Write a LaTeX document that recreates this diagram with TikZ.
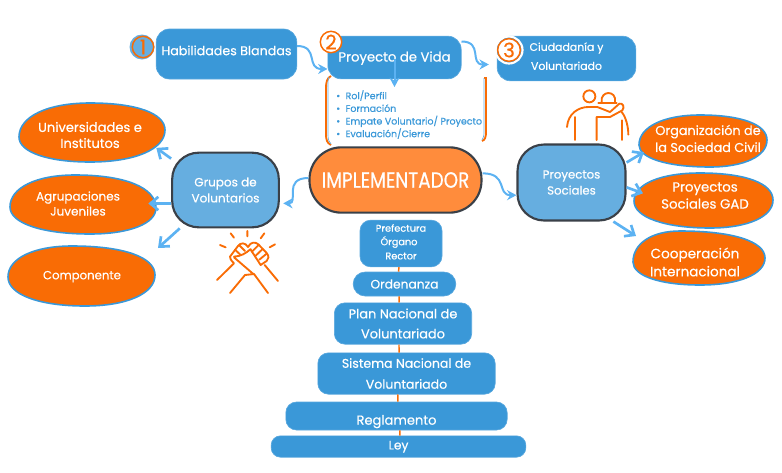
\documentclass[tikz,border=0pt]{standalone}
\usepackage{fontspec}
\setmainfont{Poppins}[RawFeature={embolden=0.5}]
\usetikzlibrary{arrows.meta,shapes.geometric}
\definecolor{boxblue}{HTML}{3A98D8}
\definecolor{softblue}{HTML}{66AEE0}
\definecolor{arrowblue}{HTML}{5CB2F2}
\definecolor{deeporange}{HTML}{F96C05}
\definecolor{softorange}{HTML}{FF8C3C}
\definecolor{darkline}{HTML}{3A4048}
% left, top, right, bottom extreme points of a closed blob
\newcommand{\blobpath}[8]{%
  (#1,#2) .. controls (#1,{#2-.6*(#2-#4)}) and ({#3-.6*(#3-#1)},#4) .. (#3,#4)
  .. controls ({#3+.62*(#5-#3)},#4) and (#5,{#6-.62*(#6-#4)}) .. (#5,#6)
  .. controls (#5,{#6+.6*(#8-#6)}) and ({#7+.6*(#5-#7)},#8) .. (#7,#8)
  .. controls ({#7-.6*(#7-#1)},#8) and (#1,{#2+.6*(#8-#2)}) .. (#1,#2) -- cycle}
\tikzset{
  fs/.style 2 args={font=\fontsize{#1}{#2}\selectfont},
  bluebox/.style={rectangle,rounded corners=#1,fill=boxblue,draw=boxblue!85!white,line width=.5pt,text=white,align=center,inner sep=0pt},
  bluebox/.default=8pt,
  hub/.style={rectangle,rounded corners=20pt,fill=softblue,draw=darkline,line width=1.6pt,text=white,align=center,inner sep=0pt},
  blobshape/.style={fill=deeporange,draw=boxblue,line width=1.2pt},
  blobtext/.style={ellipse,text=white,align=center,inner sep=0pt},
  flow/.style={draw=arrowblue,line width=1.5pt,-{Stealth[length=7pt,width=7.5pt]}},
  spoke/.style={draw=arrowblue,line width=2pt,-{Straight Barb[length=6pt,width=10pt]}},
  stem/.style={draw=deeporange,line width=1.1pt},
  icon/.style={draw=deeporange,line width=1.4pt,line cap=round,line join=round},
  badge/.style={circle,draw=deeporange,line width=1.1pt,text=deeporange,inner sep=0pt,minimum size=16pt},
  bracketline/.style={draw=deeporange,line width=1.4pt},
  bracketglow/.style={draw=softblue,line width=.5pt},
}
\begin{document}
\begin{tikzpicture}[x=.75pt,y=-.75pt]
\useasboundingbox (0,0) rectangle (782,472);
% ---- pyramid
\node[bluebox,minimum width=61.5pt,minimum height=35pt] (pref) at (401,243.5) {};
\node[bluebox=9pt,minimum width=77pt,minimum height=18pt,fs={9.2}{11}] (orde) at (404.5,284) {Ordenanza};
\node[bluebox,minimum width=103pt,minimum height=31pt,fs={9.7}{15}] (plan) at (403,323.5) {Plan Nacional de\\Voluntariado};
\node[bluebox,minimum width=133pt,minimum height=31pt,fs={9.4}{15.7}] (sist) at (406.5,373.5) {Sistema Nacional de\\Voluntariado};
\node[bluebox,minimum width=166pt,minimum height=21pt,fs={9.8}{12}] (regl) at (396.5,416) {\raisebox{-6.5pt}[0pt][0pt]{Reglamento}};
\node[bluebox,minimum width=191pt,minimum height=16pt,rounded corners=7pt,fs={9.2}{11}] (ley) at (398.5,446.5) {\raisebox{-2.2pt}[0pt][0pt]{Ley}};
\node[text=white,inner sep=0pt,fs={7.3}{9}] (preft) at (401,228) {Prefectura};
\node[text=white,inner sep=0pt,fs={7.3}{9}] (orgt) at (399,242) {Órgano};
\node[text=white,inner sep=0pt,fs={7.3}{9}] (rect) at (401,256) {Rector};
\draw[stem] ([xshift=-1.5pt]pref.south) -- ([xshift=-4.5pt]orde.north);
\draw[stem] ([xshift=-4pt]orde.south) -- ([xshift=-3pt]plan.north);
\draw[stem] ([xshift=-3pt]plan.south) -- ([xshift=-5.6pt]sist.north);
\draw[stem] ([xshift=-6.4pt]sist.south) -- ([xshift=1pt]regl.north);
\draw[stem] ([xshift=2.6pt]regl.south) -- ([xshift=1pt]ley.north);
% ---- top row
\node[bluebox=10pt,minimum width=105.5pt,minimum height=37.5pt,fs={9.5}{11}] (hab) at (226.5,54) {\raisebox{-.9pt}[0pt][0pt]{Habilidades Blandas}};
\node[bluebox=10pt,minimum width=100pt,minimum height=32pt,fs={9.9}{11}] (pvi) at (394.5,57.5) {\raisebox{-3pt}[0pt][0pt]{Proyecto de Vida}};
\node[bluebox=10pt,minimum width=104pt,minimum height=33.5pt,fs={8.2}{14.25}] (ciu) at (566.5,58.5) {\raisebox{-1.4pt}[0pt][0pt]{Ciudadanía y}\\\raisebox{-1.4pt}[0pt][0pt]{Voluntariado}};
\fill[softblue] (142,47) circle (12.5);
\node[badge,fill=softblue,fs={15}{15}] (b1) at (143,47) {1};
\node[badge,fill=white,fs={15}{15}] (b2) at (331,42) {2};
\draw[white,line width=1.6pt] (509,50) circle (13.5);
\node[badge,fill=white,minimum size=17pt,fs={15}{15}] (b3) at (509,50) {3};
% ---- list with brackets
\node[inner sep=0pt,text=boxblue,align=left,anchor=north west,fs={7.1}{9.5}] (lista) at (336,90) {%
  \hbox to 7pt{•\hss}Rol/Perfil\\
  \hbox to 7pt{•\hss}Formación\\
  \hbox to 7pt{•\hss}Empate Voluntario/ Proyecto\\
  \hbox to 7pt{•\hss}Evaluación/Cierre};
\draw[bracketline] (331,76) .. controls (327,78) and (326,82) .. (326,88) -- (326,134) .. controls (326,140) and (327,143) .. (331,145);
\draw[bracketglow] (329,77) .. controls (328,79) and (328,82) .. (328,88) -- (328,134) .. controls (328,140) and (329,142) .. (331,144);
\draw[bracketline] (484,78) -- (486,78) -- (486,132) .. controls (486,137) and (485,140) .. (482,141);
\draw[bracketglow] (484,78) -- (484,132) .. controls (484,136) and (483,139) .. (482,140);
% ---- centre and hubs
\node[rectangle,rounded corners=24pt,fill=softorange,draw=darkline,line width=1.6pt,text=white,minimum width=129pt,minimum height=49pt,inner sep=0pt,fs={13.8}{15}] (imp) at (395.5,180) {\scalebox{1}[1.2]{IMPLEMENTADOR}};
\node[hub,minimum width=80pt,minimum height=56pt,fs={9}{12}] (gru) at (225.5,190) {Grupos de\\Voluntarios};
\node[hub,minimum width=81pt,minimum height=57pt,fs={8.8}{12}] (pso) at (571.5,182.5) {Proyectos\\Sociales};
% ---- blobs
\fill[blobshape] \blobpath{19}{137}{90}{103}{165}{130}{90}{162};
\fill[blobshape] \blobpath{10}{207}{75}{175}{156}{208}{90}{234};
\fill[blobshape] \blobpath{8}{277}{72}{246}{155}{275}{85}{306};
\fill[blobshape] \blobpath{639}{145}{700}{115}{767}{140}{710}{167};
\fill[blobshape] \blobpath{634}{201}{700}{173}{773}{200}{710}{228};
\fill[blobshape] \blobpath{633}{262}{680}{231}{765}{258}{700}{285};
\node[blobtext,minimum width=109pt,minimum height=44pt,fs={9.8}{12}] (uni) at (90,135) {Universidades e\\Institutos};
\node[blobtext,minimum width=105pt,minimum height=44pt,fs={9}{11.25}] (agr) at (78,203.5) {Agrupaciones\\Juveniles};
\node[blobtext,minimum width=110pt,minimum height=45pt,fs={8.8}{11}] (com) at (82,275) {\raisebox{-3.2pt}[0pt][0pt]{Componente}};
\node[blobtext,minimum width=112pt,minimum height=39pt,fs={9.6}{12.75}] (org) at (708,138.5) {Organización de\\la Sociedad Civil};
\node[blobtext,minimum width=90pt,minimum height=41pt,fs={10}{12.75}] (gad) at (705,195.5) {Proyectos\\Sociales GAD};
\node[blobtext,minimum width=99pt,minimum height=41pt,fs={10.2}{13.5}] (coo) at (695,262) {Cooperación\\Internacional};
% ---- connectors
\draw[flow] ([yshift=6pt]hab.east) .. controls +(22,0) and +(-22,0) .. ([yshift=-8.6pt]pvi.west);
\draw[flow] ([yshift=12pt]pvi.east) .. controls +(22,0) and +(-20,0) .. ([xshift=-6pt,yshift=-4.5pt]ciu.west);
\coordinate (listtop) at (394.5,87);
\draw[flow] ([yshift=-1pt]pvi.center) -- (listtop);
\draw[flow] ([yshift=1.5pt]imp.west) .. controls +(-26,0) and +(16,0) .. ([xshift=2.5pt,yshift=-10pt]gru.east);
\draw[flow] ([yshift=5pt]imp.east) .. controls +(26,0) and +(-20,0) .. ([yshift=-9.5pt]pso.west);
\coordinate (comtip) at (158,248);
\coordinate (cootip) at (636,236);
\draw[spoke] (gru.150) -- (uni.-11);
\draw[spoke] (gru.west |- agr.east) -- (agr.east);
\draw[spoke] (gru.-140) -- (comtip);
\draw[spoke] (pso.20) -- (org.192);
\draw[spoke] (pso.-5) -- (gad.178);
\draw[spoke] (pso.-43) -- (cootip);
% ---- handshake icon
\begin{scope}[shift={(210,225)},x=.25pt,y=-.25pt]
\draw[icon] (62,25) -- (72,38) (112,18) -- (112,34) (163,25) -- (152,40) (195,58) -- (179,67) (30,60) -- (47,67);
\draw[icon] (21,165) -- (72,115) .. controls (62,105) and (60,100) .. (60,95) -- (84,63) .. controls (92,52) and (106,52) .. (114,66);
\draw[icon] (75,74) -- (92,90) (87,60) -- (105,78);
\draw[icon] (72,95) .. controls (92,94) and (108,85) .. (122,72) (72,97) -- (130,147);
\draw[icon] (114,66) .. controls (122,50) and (136,50) .. (145,58) -- (170,84) .. controls (178,94) and (176,102) .. (170,108) -- (152,120) -- (122,74);
\draw[icon] (146,60) -- (126,80) (158,72) -- (137,92) (170,86) -- (148,104);
\draw[icon] (164,120) -- (204,168);
\draw[icon] (60,204) -- (105,150) -- (132,147) -- (174,204);
\end{scope}
% ---- people icon
\begin{scope}[shift={(560,82)},x=.25pt,y=-.25pt]
\draw[icon] (88,43) circle (18);
\draw[icon] (125,60) .. controls (122,42) and (135,33) .. (145,33) .. controls (157,33) and (168,42) .. (165,60);
\draw[icon] (115,62) -- (170,62);
\draw[icon] (21,135) .. controls (24,95) and (55,75) .. (85,75) -- (112,75) -- (150,90) -- (178,65) .. controls (188,62) and (195,75) .. (187,85) -- (150,105) -- (110,105) -- (110,174);
\draw[icon] (45,105) -- (45,174);
\draw[icon] (185,90) .. controls (198,105) and (205,135) .. (205,158);
\draw[icon] (186,115) -- (186,174);
\end{scope}
\end{tikzpicture}
\end{document}
